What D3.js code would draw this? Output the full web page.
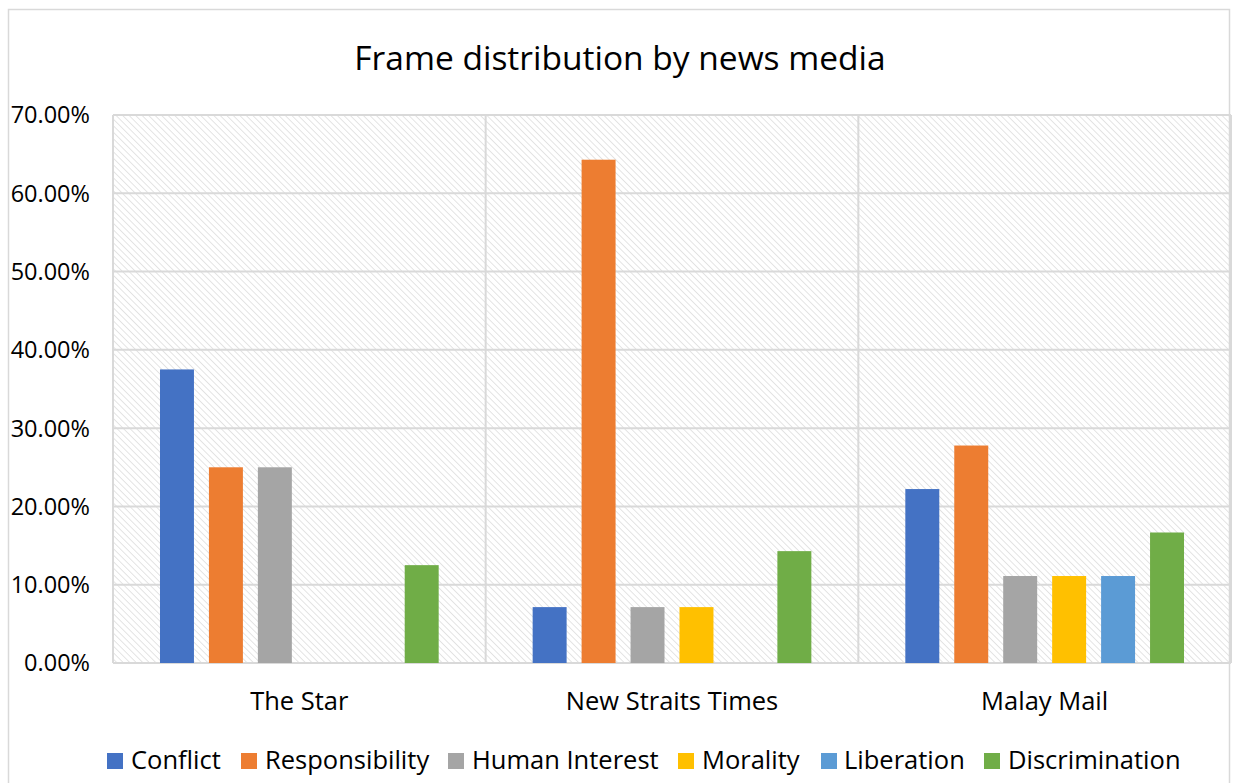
<!DOCTYPE html>
<html>
<head>
<meta charset="utf-8">
<script src="https://cdn.jsdelivr.net/npm/d3@7"></script>
<style>
  body { margin: 0; background: #fff; }
  text { font-family: "Open Sans", "Noto Sans", sans-serif; fill: #000; }
</style>
</head>
<body>
<div id="chart"></div>
<script>
const categories = ["The Star", "New Straits Times", "Malay Mail"];
const frames = ["Conflict", "Responsibility", "Human Interest", "Morality", "Liberation", "Discrimination"];
const colors = ["#4472C4", "#ED7D31", "#A5A5A5", "#FFC000", "#5B9BD5", "#70AD47"];
// percent values per frame, in category order
const conflict = [37.5, 7.14, 22.22];
const responsibility = [25.0, 64.29, 27.78];
const humanInterest = [25.0, 7.14, 11.11];
const morality = [0, 7.14, 11.11];
const liberation = [0, 0, 11.11];
const discrimination = [12.5, 14.29, 16.67];
const yTicks = [0, 10, 20, 30, 40, 50, 60, 70];

const series = [conflict, responsibility, humanInterest, morality, liberation, discrimination];

const width = 1233, height = 783;
const margin = { top: 115, right: 2, bottom: 120, left: 113 };

const svg = d3.select("#chart").append("svg")
    .attr("width", width)
    .attr("height", height);

// hatch pattern for plot area
const defs = svg.append("defs");
const pat = defs.append("pattern")
    .attr("id", "hatch")
    .attr("patternUnits", "userSpaceOnUse")
    .attr("width", 4.6)
    .attr("height", 4.6)
    .attr("patternTransform", "rotate(-45)");
pat.append("line")
    .attr("x1", 0).attr("y1", 0).attr("x2", 0).attr("y2", 4.6)
    .attr("stroke", "#d9d9d9")
    .attr("stroke-width", 1.4);

// outer chart border
svg.append("rect")
    .attr("x", 8.5).attr("y", 9.5)
    .attr("width", 1221).attr("height", 790)
    .attr("fill", "#fff")
    .attr("stroke", "#d9d9d9")
    .attr("stroke-width", 1.5);

const x0 = d3.scaleBand()
    .domain(categories)
    .range([margin.left, width - margin.right]);

const x1 = d3.scaleBand()
    .domain(d3.range(frames.length))
    .range([0, x0.bandwidth()])
    .paddingInner(0.306)
    .paddingOuter(0.96);

const y = d3.scaleLinear()
    .domain([0, 70])
    .range([height - margin.bottom, margin.top]);

const plotW = width - margin.right - margin.left;

svg.append("rect")
    .attr("x", margin.left).attr("y", margin.top)
    .attr("width", plotW)
    .attr("height", y(0) - margin.top)
    .attr("fill", "url(#hatch)");

// gridlines
svg.append("g")
    .selectAll("line")
    .data(yTicks)
    .join("line")
    .attr("x1", margin.left).attr("x2", width - margin.right)
    .attr("y1", d => y(d)).attr("y2", d => y(d))
    .attr("stroke", "#d9d9d9")
    .attr("stroke-width", 2);

// category separators
svg.append("g")
    .selectAll("line")
    .data(categories.concat(["end"]))
    .join("line")
    .attr("x1", (d, i) => margin.left + i * x0.bandwidth())
    .attr("x2", (d, i) => margin.left + i * x0.bandwidth())
    .attr("y1", margin.top).attr("y2", y(0))
    .attr("stroke", "#d9d9d9")
    .attr("stroke-width", 2);

// bars
const groups = svg.append("g")
    .selectAll("g")
    .data(categories)
    .join("g")
    .attr("transform", d => `translate(${x0(d)},0)`);

groups.selectAll("rect")
    .data((c, ci) => series.map((s, si) => ({ si, v: s[ci] })))
    .join("rect")
    .attr("x", d => x1(d.si))
    .attr("width", x1.bandwidth())
    .attr("y", d => y(d.v))
    .attr("height", d => y(0) - y(d.v))
    .attr("fill", d => colors[d.si]);

// y axis labels
svg.append("g")
    .selectAll("text")
    .data(yTicks)
    .join("text")
    .attr("x", 90)
    .attr("y", d => y(d))
    .attr("dy", "0.36em")
    .attr("text-anchor", "end")
    .style("font-size", "23.5px")
    .text(d => d3.format(".2f")(d) + "%");

// category labels
svg.append("g")
    .selectAll("text")
    .data(categories)
    .join("text")
    .attr("x", d => x0(d) + x0.bandwidth() / 2)
    .attr("y", 710)
    .attr("text-anchor", "middle")
    .style("font-size", "25.5px")
    .text(d => d);

// title
svg.append("text")
    .attr("x", 620)
    .attr("y", 70)
    .attr("text-anchor", "middle")
    .style("font-size", "33.5px")
    .text("Frame distribution by news media");

// legend
const legendItems = [
    { x: 107, tx: 131 },
    { x: 241, tx: 265 },
    { x: 448, tx: 472 },
    { x: 678, tx: 702 },
    { x: 821, tx: 844 },
    { x: 984, tx: 1008 }
];
const legend = svg.append("g")
    .selectAll("g")
    .data(frames)
    .join("g");
legend.append("rect")
    .attr("x", (d, i) => legendItems[i].x)
    .attr("y", 753)
    .attr("width", 16).attr("height", 16)
    .attr("fill", (d, i) => colors[i]);
legend.append("text")
    .attr("x", (d, i) => legendItems[i].tx)
    .attr("y", 769)
    .style("font-size", "25.5px")
    .text(d => d);
</script>
</body>
</html>
